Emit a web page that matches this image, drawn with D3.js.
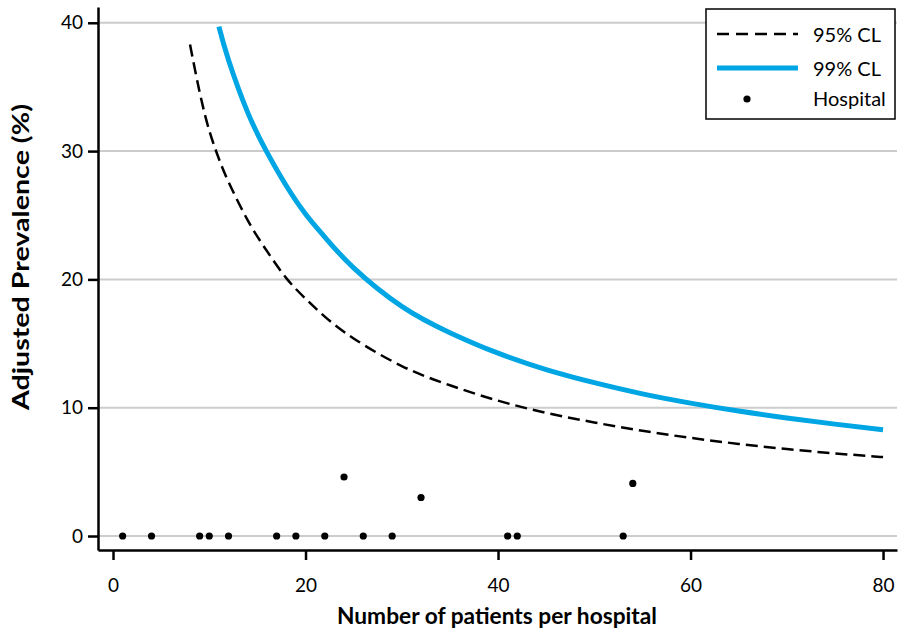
<!DOCTYPE html>
<html>
<head>
<meta charset="utf-8">
<script src="https://cdn.jsdelivr.net/npm/d3@7"></script>
<style>
  body { margin: 0; background: #fff; }
  text { font-family: Lato, "DejaVu Sans", sans-serif; }
</style>
</head>
<body>
<script>
// curve sample points
var nCL95 = [8, 9, 10, 11, 12, 14, 16, 18, 20, 22, 25, 30, 35, 40, 45, 50, 55, 60, 65, 70, 75, 80];
var cl95 = [38.3, 34.6, 31.6, 29.4, 27.6, 24.6, 22.2, 20.1, 18.5, 17.1, 15.4, 13.25, 11.75, 10.55, 9.6, 8.85, 8.2, 7.65, 7.18, 6.78, 6.44, 6.15];
var nCL99 = [11, 12, 14, 16, 18, 20, 22, 25, 30, 35, 40, 45, 50, 55, 60, 65, 70, 75, 80];
var cl99 = [39.7, 37.1, 33.0, 29.9, 27.3, 25.1, 23.3, 20.9, 17.9, 15.85, 14.25, 12.97, 11.95, 11.08, 10.36, 9.74, 9.2, 8.72, 8.28];

// hospitals
var hospN = [1, 4, 9, 10, 12, 17, 19, 22, 24, 26, 29, 32, 41, 42, 53, 54];
var hospPrev = [0, 0, 0, 0, 0, 0, 0, 0, 4.6, 0, 0, 3.0, 0, 0, 0, 4.1];

var xTicks = [0, 20, 40, 60, 80];
var yTicks = [0, 10, 20, 30, 40];

var W = 898, H = 632;
var svg = d3.select("body").append("svg").attr("width", W).attr("height", H);

var x = d3.scaleLinear().domain([-1.56, 81.45]).range([98, 897]);
var y = d3.scaleLinear().domain([-1.09, 41.23]).range([550, 7]);

// gridlines
svg.append("g").selectAll("line").data(yTicks).enter().append("line")
  .attr("x1", 98).attr("x2", 897)
  .attr("y1", function(d) { return y(d); }).attr("y2", function(d) { return y(d); })
  .attr("stroke", "#cccccc").attr("stroke-width", 2);

// axes
var xAxis = svg.append("g").attr("transform", "translate(0,550)")
  .call(d3.axisBottom(x).tickValues(xTicks).tickSize(10).tickSizeOuter(0).tickPadding(19));
var yAxis = svg.append("g").attr("transform", "translate(98,0)")
  .call(d3.axisLeft(y).tickValues(yTicks).tickSize(10).tickSizeOuter(0).tickPadding(5));
[xAxis, yAxis].forEach(function(g) {
  g.select(".domain").attr("stroke", "#000").attr("stroke-width", 2.5);
  g.selectAll(".tick line").attr("stroke", "#000").attr("stroke-width", 2.5);
  g.selectAll(".tick text").attr("fill", "#000").style("font-size", "19px")
    .style("font-family", "Lato, sans-serif");
});

// curves
var line = d3.line().curve(d3.curveNatural);
svg.append("path")
  .attr("d", line(nCL95.map(function(n, i) { return [x(n), y(cl95[i])]; })))
  .attr("fill", "none").attr("stroke", "#000").attr("stroke-width", 2.5)
  .attr("stroke-dasharray", "12,6");
svg.append("path")
  .attr("d", line(nCL99.map(function(n, i) { return [x(n), y(cl99[i])]; })))
  .attr("fill", "none").attr("stroke", "#00a5e3").attr("stroke-width", 5);

// hospital points
svg.append("g").selectAll("circle").data(hospN).enter().append("circle")
  .attr("cx", function(d) { return x(d); })
  .attr("cy", function(d, i) { return y(hospPrev[i]); })
  .attr("r", 3.6).attr("fill", "#000");

// axis titles
svg.append("text").attr("x", 497).attr("y", 624).attr("text-anchor", "middle")
  .attr("textLength", 320).attr("lengthAdjust", "spacingAndGlyphs")
  .style("font-size", "22px").style("font-weight", "bold").text("Number of patients per hospital");
svg.append("text").attr("transform", "translate(29,257) rotate(-90)").attr("text-anchor", "middle")
  .attr("textLength", 306).attr("lengthAdjust", "spacingAndGlyphs")
  .style("font-size", "23px").style("font-weight", "bold").text("Adjusted Prevalence (%)");

// legend
var lg = svg.append("g");
lg.append("rect").attr("x", 706).attr("y", 9).attr("width", 189).attr("height", 110)
  .attr("fill", "#fff").attr("stroke", "#000").attr("stroke-width", 1.5);
lg.append("line").attr("x1", 717).attr("x2", 798).attr("y1", 34).attr("y2", 34)
  .attr("stroke", "#000").attr("stroke-width", 2.5).attr("stroke-dasharray", "12,7");
lg.append("line").attr("x1", 717).attr("x2", 798).attr("y1", 68).attr("y2", 68)
  .attr("stroke", "#00a5e3").attr("stroke-width", 5);
lg.append("circle").attr("cx", 747).attr("cy", 99).attr("r", 3.6).attr("fill", "#000");
[["95% CL", 35], ["99% CL", 69], ["Hospital", 99]].forEach(function(d) {
  lg.append("text").attr("x", 813).attr("y", d[1]).attr("dy", "0.35em")
    .style("font-size", "20px").text(d[0]);
});
</script>
</body>
</html>
